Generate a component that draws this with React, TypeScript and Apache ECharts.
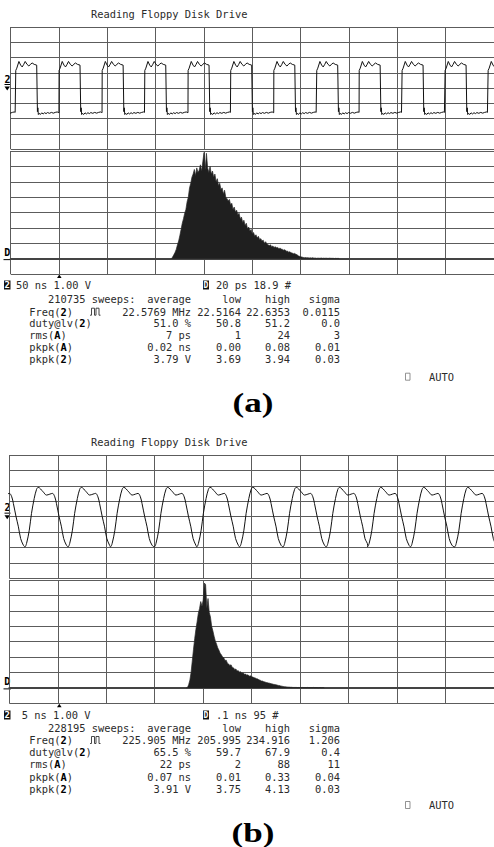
import React, { useEffect, useRef } from "react";
import * as echarts from "echarts";

// ---------- Panel (a): 50 ns/div, 1 V/div square wave ----------
// rising-edge times (ns)
const edgesA = [-39.3, 5.1, 49.9, 94.5, 138.6, 183.4, 227.5, 272.1, 316.5, 360.4, 404.8, 449.3, 493.8];
// one cycle of the trace: [ns after rising edge, volts]
const cycleA: [number, number][] = [
  [0, -1.62], [0.15, 1.15], [1.2, 1.3], [3.4, 1.74], [5.2, 1.5], [6.8, 1.38], [8.4, 1.55],
  [9.9, 1.74], [11.8, 1.55], [13.7, 1.44], [15.4, 1.56], [17.1, 1.64], [19.2, 1.55],
  [21.8, 1.5], [22.4, 1.48], [22.55, -1.55], [23.0, -1.3], [23.5, -1.74], [24.5, -1.66],
  [25.5, -1.74], [27, -1.63], [28.5, -1.7], [30, -1.62], [31.5, -1.68], [33, -1.61],
  [35, -1.66], [37, -1.6], [39, -1.65], [41, -1.6], [43, -1.57], [43.9, -1.6],
];

// ---------- Panel (b): 5 ns/div, 1 V/div ----------
// trough times (ns)
const troughsB = [-2.83, 1.61, 6.06, 10.44, 14.96, 19.34, 23.75, 28.23, 32.69, 36.95, 41.38, 45.93];
// one cycle: [ns after trough, volts]
const cycleB: [number, number][] = [
  [0, -1.96], [0.17, -1.74], [0.45, -0.88], [0.68, 0.21], [0.96, 1.18], [1.2, 1.77],
  [1.37, 1.9], [1.88, 1.61], [2.23, 1.4], [2.57, 1.46], [2.84, 1.51], [3.08, 1.29],
  [3.25, 0.86], [3.53, -0.01], [3.77, -0.66], [4.0, -1.42], [4.28, -1.85],
];

// ---------- Histograms (height in divisions above the baseline) ----------
const histAStart = 66.5; // ps
const histAStep = 0.5; // ps
const histA = [
  0, 0.1, 0.25, 0.4, 0.6, 0.9, 1.15, 1.5, 1.9, 2.3, 2.6, 2.95, 3.2, 3.7, 4.0, 4.6, 4.9, 5.3,
  5.5, 5.8, 5.4, 5.9, 5.6, 5.75, 6.1, 5.7, 6.3, 6.9, 5.8, 6.85, 5.9, 5.6, 6.0, 5.5, 5.7, 5.3,
  5.5, 5.0, 5.2, 4.75, 4.9, 4.5, 4.6, 4.2, 4.45, 4.0, 3.9, 3.75, 3.85, 3.5, 3.6, 3.2, 3.35,
  3.05, 3.15, 2.85, 2.95, 2.6, 2.7, 2.35, 2.5, 2.15, 2.3, 1.95, 2.05, 1.8, 1.9, 1.6, 1.7,
  1.45, 1.55, 1.35, 1.45, 1.25, 1.3, 1.15, 1.2, 1.0, 1.1, 0.95, 0.9, 0.85, 0.9, 0.78, 0.82,
  0.72, 0.78, 0.7, 0.72, 0.65, 0.68, 0.62, 0.6, 0.55, 0.58, 0.48, 0.5, 0.42, 0.45, 0.38,
  0.36, 0.32, 0.34, 0.28, 0.25, 0.18, 0.15, 0.12, 0.1, 0.08, 0.06, 0.07, 0.05, 0.06, 0.04,
  0.05, 0.04, 0.06, 0.03, 0.04, 0.02, 0.03, 0.03, 0.02, 0.04, 0.02, 0.03, 0.02, 0.03, 0.02,
  0.02, 0.03, 0.02, 0.02, 0.02, 0.01, 0.02, 0.01, 0.02, 0,
];
const histBStart = 365; // ps
const histBStep = 2.5; // ps
const histB = [
  0, 0.02, 0.2, 0.5, 1.0, 1.75, 2.5, 3.2, 3.8, 4.3, 4.85, 5.15, 5.6, 5.3, 5.7, 6.8, 6.7, 5.2,
  5.8, 4.9, 4.6, 4.0, 3.7, 3.35, 3.05, 2.85, 2.6, 2.45, 2.25, 2.15, 2.0, 1.95, 1.78, 1.8, 1.6,
  1.55, 1.45, 1.5, 1.33, 1.3, 1.2, 1.22, 1.1, 1.12, 1.02, 1.05, 0.95, 0.98, 0.88, 0.9, 0.82,
  0.85, 0.76, 0.78, 0.72, 0.7, 0.66, 0.64, 0.6, 0.58, 0.52, 0.5, 0.45, 0.44, 0.4, 0.38, 0.35,
  0.34, 0.31, 0.3, 0.27, 0.26, 0.23, 0.22, 0.2, 0.18, 0.16, 0.15, 0.12, 0.11, 0.09, 0.08,
  0.07, 0.06, 0.05, 0.05, 0.04, 0.04, 0.03, 0.03, 0.03, 0.03, 0.02, 0.03, 0.02, 0.02, 0.03,
  0.02, 0.02, 0.02, 0.03, 0.02, 0.02, 0.02, 0.02, 0.03, 0.02, 0.02, 0.02, 0.01, 0.02, 0.02,
  0.01, 0.02, 0,
];

// ---------- Texts ----------
const titleText = "Reading Floppy Disk Drive";
const headers = ["average", "low", "high", "sigma"];
const rowLabels = ["Freq({b|2})", "duty@lv({b|2})", "rms({b|A})", "pkpk({b|A})", "pkpk({b|2})"];
const statsA = [
  ["22.5769 MHz", "22.5164", "22.6353", "0.0115"],
  ["51.0 %", "50.8", "51.2", "0.0"],
  ["7 ps", "1", "24", "3"],
  ["0.02 ns", "0.00", "0.08", "0.01"],
  ["3.79 V", "3.69", "3.94", "0.03"],
];
const statsB = [
  ["225.905 MHz", "205.995", "234.916", "1.206"],
  ["65.5 %", "59.7", "67.9", "0.4"],
  ["22 ps", "2", "88", "11"],
  ["0.07 ns", "0.01", "0.33", "0.04"],
  ["3.91 V", "3.75", "4.13", "0.03"],
];
const sweepsA = "210735 sweeps:";
const sweepsB = "228195 sweeps:";
const scaleTextA = ["50 ns 1.00 V", "20 ps 18.9 #"];
const scaleTextB = ["5 ns 1.00 V", ".1 ns 95 #"];
const panelLabels = ["(a)", "(b)"];

const MONO = '"DejaVu Sans Mono", monospace';
const FS = 10.4;
const TXT = "#2b2b2b";
const GRIDC = "#5c5c5c";

function buildWave(starts: number[], cycle: [number, number][]) {
  const out: [number, number][] = [];
  starts.forEach((t0) => cycle.forEach(([dt, v]) => out.push([+(t0 + dt).toFixed(3), v])));
  return out;
}
function buildHist(start: number, step: number, vals: number[]) {
  return vals.map((v, i) => [+(start + i * step).toFixed(3), v]);
}

function text(x: number, y: number, s: string, align = "left", extra: any = {}) {
  return {
    type: "text",
    silent: true,
    x,
    y,
    style: {
      text: s,
      fontFamily: MONO,
      fontSize: FS,
      fill: TXT,
      align,
      textAlign: align,
      verticalAlign: "middle",
      textVerticalAlign: "middle",
      rich: { b: { fontFamily: MONO, fontSize: FS, fontWeight: "bold", fill: "#000" } },
      ...extra,
    },
  };
}

function panelGraphics(p: any) {
  const g: any[] = [];
  g.push(text(91, p.titleY, titleText));
  // channel marker at wave centre
  const cy = p.waveTop + p.waveH / 2;
  g.push(text(7.5, cy - 9, "2", "center", { fontWeight: "bold", fill: "#000", fontSize: 10 }));
  g.push({ type: "line", silent: true, shape: { x1: 4.5, y1: cy - 3.5, x2: 10.5, y2: cy - 3.5 }, style: { stroke: "#000", lineWidth: 1 } });
  g.push({ type: "polygon", silent: true, shape: { points: [[4.5, cy - 1.5], [10, cy - 1.5], [7.2, cy + 2.5]] }, style: { fill: "#000" } });
  // histogram baseline marker
  g.push(text(7.3, p.baseY - 6.5, "D", "center", { fontWeight: "bold", fill: "#000", fontSize: 10 }));
  g.push({ type: "line", silent: true, shape: { x1: 3.5, y1: p.baseY + 1, x2: 11, y2: p.baseY + 1 }, style: { stroke: "#000", lineWidth: 1 } });
  // trigger marker under the screen
  g.push({ type: "polygon", silent: true, shape: { points: [[57, p.bottom + 4], [59.3, p.bottom + 0.5], [61.6, p.bottom + 4]] }, style: { fill: "#000" } });
  // scale row
  const r = p.rows;
  g.push({ type: "rect", silent: true, shape: { x: 4, y: r[0] - 4.5, width: 6.5, height: 9 }, style: { fill: "#111" } });
  g.push(text(7.25, r[0], "2", "center", { fill: "#fff", fontWeight: "bold", fontSize: 9 }));
  g.push(text(p.scaleX, r[0], p.scale[0]));
  g.push({ type: "rect", silent: true, shape: { x: 203, y: r[0] - 4.5, width: 6, height: 9 }, style: { fill: "#111" } });
  g.push(text(206, r[0], "D", "center", { fill: "#fff", fontWeight: "bold", fontSize: 8 }));
  g.push(text(216, r[0], p.scale[1]));
  // header row
  g.push(text(48, r[1], p.sweeps));
  const cols = [191, 241, 290, 340];
  headers.forEach((h, i) => g.push(text(cols[i], r[1], h, "right")));
  // stat rows
  rowLabels.forEach((lab, k) => {
    g.push(text(29.3, r[2 + k], lab));
    p.stats[k].forEach((v: string, i: number) => g.push(text(cols[i], r[2 + k], v, "right")));
  });
  // pulse glyph after Freq(2)
  const y0 = r[2] + 3.5, y1 = r[2] - 3.5;
  g.push({
    type: "polyline",
    silent: true,
    shape: { points: [[90, y0], [91.5, y0], [91.5, y1], [94.5, y1], [94.5, y0], [96, y0], [96, y1], [99, y1], [99, y0], [100.5, y0]] },
    style: { stroke: "#333", lineWidth: 0.9, fill: null },
  });
  // AUTO
  g.push({ type: "rect", silent: true, shape: { x: 405.5, y: p.autoY - 3.5, width: 4.5, height: 7 }, style: { fill: "none", stroke: "#777", lineWidth: 0.8 } });
  g.push(text(429, p.autoY, "AUTO"));
  // panel label
  g.push({
    type: "text",
    silent: true,
    x: 253,
    y: p.labelY,
    scaleX: 1.3,
    style: {
      text: p.label,
      fontFamily: '"Liberation Serif", "Times New Roman", serif',
      fontSize: 27,
      fontWeight: "bold",
      fill: "#000",
      align: "center",
      textAlign: "center",
      verticalAlign: "middle",
      textVerticalAlign: "middle",
    },
  });
  return g;
}

const panels = [
  {
    left: 10.7, waveTop: 27, waveH: 122, histTop: 151, histH: 123, titleY: 14,
    waveMax: 500, waveInt: 50, histMax: 200, histInt: 20,
    rows: [285, 299.3, 311.7, 323.3, 335.3, 347.3, 359.3], autoY: 376.7, labelY: 403,
    scaleX: 16, scale: scaleTextA, sweeps: sweepsA, stats: statsA, label: panelLabels[0],
    wave: buildWave(edgesA, cycleA), hist: buildHist(histAStart, histAStep, histA), smooth: false,
  },
  {
    left: 9.3, waveTop: 455, waveH: 123.3, histTop: 580, histH: 123.3, titleY: 441.7,
    waveMax: 50, waveInt: 5, histMax: 1000, histInt: 100,
    rows: [715, 728.3, 740, 752.3, 764.3, 776.7, 789.3], autoY: 805, labelY: 833,
    scaleX: 21.7, scale: scaleTextB, sweeps: sweepsB, stats: statsB, label: panelLabels[1],
    wave: buildWave(troughsB, cycleB), hist: buildHist(histBStart, histBStep, histB), smooth: 0.35,
  },
].map((p: any) => ({ ...p, bottom: p.histTop + p.histH, baseY: p.histTop + (p.histH * 7) / 8 }));

export default function App() {
  const ref = useRef<HTMLDivElement>(null);
  useEffect(() => {
    if (!ref.current) return;
    const chart = echarts.init(ref.current, undefined, { renderer: "svg" });
    const grid: any[] = [];
    const xAxis: any[] = [];
    const yAxis: any[] = [];
    const series: any[] = [];
    let graphic: any[] = [];
    const split = { show: true, lineStyle: { color: GRIDC, width: 1 } };
    panels.forEach((p: any) => {
      const gi = grid.length;
      grid.push({ left: p.left, top: p.waveTop, width: 487, height: p.waveH });
      grid.push({ left: p.left, top: p.histTop, width: 487, height: p.histH });
      xAxis.push({
        type: "value", gridIndex: gi, min: 0, max: p.waveMax, interval: p.waveInt,
        axisLabel: { show: false }, axisTick: { show: false }, axisLine: { show: false }, splitLine: split,
      });
      xAxis.push({
        type: "value", gridIndex: gi + 1, min: 0, max: p.histMax, interval: p.histInt,
        axisLabel: { show: false }, axisTick: { show: false },
        axisLine: { show: true, onZero: true, lineStyle: { color: "#444", width: 2 } }, splitLine: split,
      });
      yAxis.push({
        type: "value", gridIndex: gi, min: -4, max: 4, interval: 1,
        axisLabel: { show: false }, axisTick: { show: false }, axisLine: { show: false }, splitLine: split,
      });
      yAxis.push({
        type: "value", gridIndex: gi + 1, min: -1, max: 7, interval: 1,
        axisLabel: { show: false }, axisTick: { show: false }, axisLine: { show: false }, splitLine: split,
      });
      series.push({
        type: "line", xAxisIndex: gi, yAxisIndex: gi, data: p.wave, showSymbol: false,
        smooth: p.smooth, clip: true, lineStyle: { color: "#111", width: 1 }, z: 5,
      });
      series.push({
        type: "line", xAxisIndex: gi + 1, yAxisIndex: gi + 1, data: p.hist, showSymbol: false,
        clip: true, lineStyle: { color: "#2a2a2a", width: 0.7 }, areaStyle: { color: "#1f1f1f", opacity: 1 }, z: 5,
      });
      graphic = graphic.concat(panelGraphics(p));
    });
    chart.setOption({
      animation: false,
      backgroundColor: "#fff",
      grid,
      xAxis,
      yAxis,
      series,
      graphic,
    });
    return () => chart.dispose();
  }, []);
  return <div ref={ref} style={{ position: "fixed", left: 0, top: 0, width: 494, height: 847, background: "#fff" }} />;
}
